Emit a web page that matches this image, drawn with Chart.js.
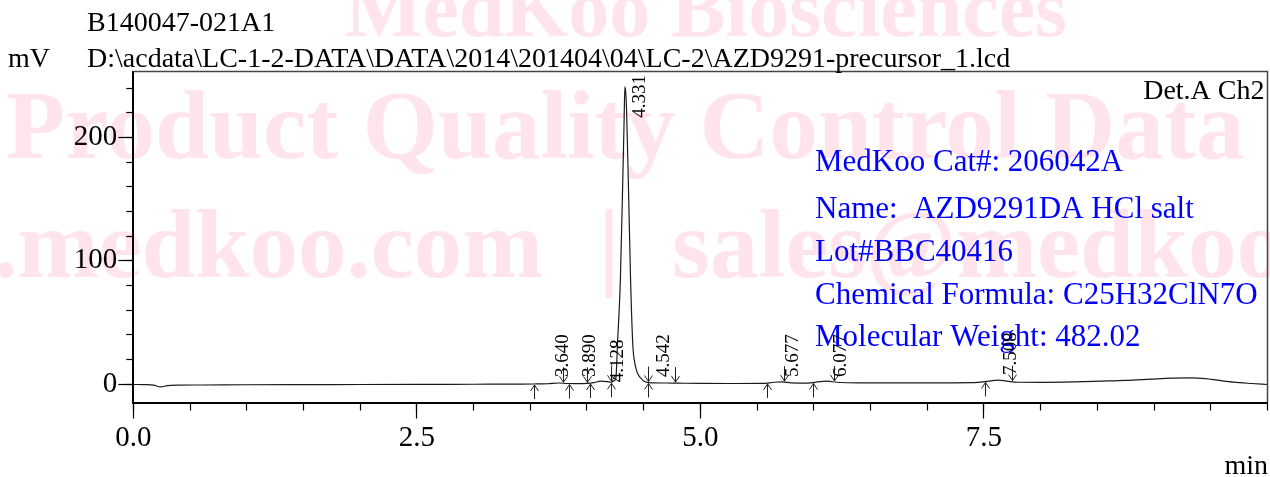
<!DOCTYPE html>
<html lang="en">
<head>
    <meta charset="UTF-8">
    <title>AZD9291DA HCl salt - HPLC</title>
    <script src="https://cdn.jsdelivr.net/npm/chart.js"></script>
    <style>
        * { margin: 0; padding: 0; box-sizing: border-box; }
        body { background: #fff; width: 1270px; height: 477px; overflow: hidden; }
        canvas { display: block; }
    </style>
</head>
<body>
    <canvas id="chromatogram" width="1270" height="477"></canvas>

    <script>
        // retention time (min) and detector signal (mV)
        const times = [0.00, 0.10, 0.18, 0.24, 0.30, 0.40, 0.60, 1.00, 1.50, 2.00, 2.50, 3.00, 3.40, 3.53,
            3.65, 3.75, 3.82, 3.90, 4.00, 4.06, 4.12, 4.18, 4.21, 4.24, 4.255, 4.27, 4.285, 4.295, 4.316,
            4.327, 4.334, 4.342, 4.349, 4.364, 4.384, 4.404, 4.42, 4.434, 4.45, 4.472, 4.50, 4.53, 4.58,
            4.70, 4.80, 5.00, 5.30, 5.55, 5.65, 5.72, 5.80, 5.95, 6.05, 6.12, 6.20, 6.40, 7.00, 7.40,
            7.55, 7.62, 7.70, 7.80, 8.00, 8.30, 8.53, 8.75, 8.97, 9.15, 9.33, 9.45, 9.56, 9.70, 9.86, 10.00];
        const signal = [-0.3, -0.4, -0.8, -2.3, -1.2, -0.8, -0.7, -0.5, -0.4, -0.3, -0.2, -0.1, 0.0, 0.1,
            0.3, 0.9, 0.5, 0.4, 0.6, 1.2, 2.4, 2.0, 1.5, 2.8, 5.0, 35, 62, 86, 167,
            212, 241, 236, 222, 167, 86, 32, 18, 12, 8, 5, 2.5, 1.4, 1.0,
            0.9, 0.8, 0.6, 0.5, 0.6, 1.5, 1.8, 1.0, 0.8, 2.0, 2.4, 1.5, 1.0, 1.0, 1.2,
            2.5, 3.2, 2.5, 1.5, 1.4, 1.8, 2.4, 3.0, 4.0, 4.8, 5.1, 4.5, 3.2, 1.6, 0.5, -0.3];

        // integration marks (min)
        const startMarks = [3.53, 3.84, 4.03, 4.21, 4.54, 5.59, 5.99, 7.51];
        const endMarks = [3.79, 4.00, 4.21, 4.54, 4.78, 5.74, 6.18, 7.745];

        // retention time labels, where they sit (min, mV)
        const peakLabels = ['3.640', '3.890', '4.128', '4.331', '4.542', '5.677', '6.077', '7.508'];
        const labelTimes = [3.79, 4.03, 4.27, 4.47, 4.68, 5.82, 6.24, 7.74];
        const labelLevels = [5.7, 5.7, 1.6, 216, 5.7, 5.7, 5.7, 7.3];

        const xTickLabels = { 0: '0.0', 2.5: '2.5', 5: '5.0', 7.5: '7.5' };
        const yTickLabels = { 0: '0', 100: '100', 200: '200' };

        const sampleName = 'B140047-021A1';
        const filePath = 'D:\\acdata\\LC-1-2-DATA\\DATA\\2014\\201404\\04\\LC-2\\AZD9291-precursor_1.lcd';
        const infoLines = [
            'MedKoo Cat#: 206042A',
            'Name:  AZD9291DA HCl salt',
            'Lot#BBC40416',
            'Chemical Formula: C25H32ClN7O',
            'Molecular Weight: 482.02'
        ];

        const serif = '"Liberation Serif", "Times New Roman", serif';

        function signalAt(t) {
            for (let i = 1; i < times.length; i++) {
                if (times[i] >= t) {
                    const f = (t - times[i - 1]) / (times[i] - times[i - 1]);
                    return signal[i - 1] + f * (signal[i] - signal[i - 1]);
                }
            }
            return signal[signal.length - 1];
        }

        const decorations = {
            id: 'decorations',
            beforeDraw(chart) {
                const ctx = chart.ctx;
                ctx.save();
                ctx.fillStyle = '#fff';
                ctx.fillRect(0, 0, chart.width, chart.height);
                // watermark
                ctx.fillStyle = 'rgb(255, 228, 235)';
                ctx.textBaseline = 'alphabetic';
                ctx.font = 'bold 82px ' + serif;
                ctx.textAlign = 'left';
                ctx.fillText('MedKoo Biosciences', 345, 36);
                ctx.font = 'bold 97px ' + serif;
                ctx.fillText('Product Quality Control Data', 6, 158);
                ctx.textAlign = 'right';
                ctx.fillText('www.medkoo.com', 543, 277);
                ctx.textAlign = 'center';
                ctx.fillText('|', 609, 277);
                ctx.textAlign = 'left';
                ctx.fillText('sales@medkoo.com', 672, 277);
                ctx.restore();
            },
            afterDraw(chart) {
                const { ctx, chartArea: a } = chart;
                const x = chart.scales.x, y = chart.scales.y;
                ctx.save();

                // frame top / right
                ctx.strokeStyle = '#444';
                ctx.lineWidth = 1.5;
                ctx.beginPath();
                ctx.moveTo(a.left, a.top);
                ctx.lineTo(a.right, a.top);
                ctx.lineTo(a.right, a.bottom);
                ctx.stroke();

                // header texts
                ctx.fillStyle = '#000';
                ctx.font = '28px ' + serif;
                ctx.textBaseline = 'alphabetic';
                ctx.textAlign = 'left';
                ctx.fillText(sampleName, 87, 31);
                ctx.fillText('mV', 8, 67);
                ctx.fillText(filePath, 87, 67);
                ctx.textAlign = 'right';
                ctx.fillText('Det.A Ch2', a.right - 3, 99);
                ctx.fillText('min', 1268, 474);

                // product info
                ctx.fillStyle = '#0000ff';
                ctx.font = '31px ' + serif;
                ctx.textAlign = 'left';
                const baselines = [171, 218, 261, 304, 346];
                infoLines.forEach((line, i) => ctx.fillText(line, 815, baselines[i]));

                // integration arrows
                ctx.strokeStyle = '#222';
                ctx.lineWidth = 1;
                const arrow = (px, tip, tail) => {
                    const dir = tail > tip ? 1 : -1;
                    ctx.beginPath();
                    ctx.moveTo(px, tip);
                    ctx.lineTo(px, tail);
                    ctx.moveTo(px - 4, tip + dir * 6);
                    ctx.lineTo(px, tip);
                    ctx.lineTo(px + 4, tip + dir * 6);
                    ctx.stroke();
                };
                startMarks.forEach(t => {
                    const px = Math.round(x.getPixelForValue(t)) + 0.5;
                    const py = y.getPixelForValue(signalAt(t)) + 1;
                    arrow(px, py, py + 14);
                });
                endMarks.forEach(t => {
                    const px = Math.round(x.getPixelForValue(t)) + 0.5;
                    const py = y.getPixelForValue(signalAt(t)) - 1;
                    arrow(px, py, py - 15);
                });

                // retention time labels
                ctx.fillStyle = '#000';
                ctx.font = '19px ' + serif;
                ctx.textAlign = 'left';
                ctx.textBaseline = 'middle';
                peakLabels.forEach((label, i) => {
                    ctx.save();
                    ctx.translate(x.getPixelForValue(labelTimes[i]), y.getPixelForValue(labelLevels[i]));
                    ctx.rotate(-Math.PI / 2);
                    ctx.fillText(label, 0, 0);
                    ctx.restore();
                });
                ctx.restore();
            }
        };

        const tickFont = { family: serif, size: 29 };

        new Chart(document.getElementById('chromatogram'), {
            type: 'line',
            data: {
                datasets: [{
                    data: times.map((t, i) => ({ x: t, y: signal[i] })),
                    borderColor: '#1a1a1a',
                    borderWidth: 1.2,
                    pointRadius: 0,
                    cubicInterpolationMode: 'monotone',
                    fill: false
                }]
            },
            options: {
                responsive: false,
                animation: false,
                layout: { padding: { top: 71.5, right: 2.5, left: 0, bottom: 0 } },
                plugins: { legend: { display: false }, tooltip: { enabled: false } },
                scales: {
                    x: {
                        type: 'linear', position: 'bottom', weight: 1,
                        min: 0, max: 10,
                        afterFit(s) { s.height = 74.5; },
                        border: { display: true, color: '#000', width: 2 },
                        grid: {
                            drawOnChartArea: false, tickLength: 16, tickWidth: 1.2,
                            tickColor: c => (c.tick && c.tick.value === 10) ? 'rgba(0,0,0,0)' : '#000'
                        },
                        ticks: {
                            stepSize: 2.5, padding: 2, color: '#000', font: tickFont,
                            maxRotation: 0, autoSkip: false,
                            callback: v => xTickLabels[v] || ''
                        }
                    },
                    xMinor: {
                        type: 'linear', position: 'bottom', weight: 0,
                        min: 0, max: 10,
                        afterFit(s) { s.height = 0; },
                        border: { display: false },
                        grid: { drawOnChartArea: false, tickLength: 8, tickWidth: 1.2, tickColor: '#000' },
                        ticks: { stepSize: 0.5, display: false, includeBounds: false }
                    },
                    y: {
                        type: 'linear', position: 'left', weight: 1,
                        min: -14.9, max: 253.5,
                        afterFit(s) { s.width = 133.3; },
                        border: { display: true, color: '#000', width: 2 },
                        grid: { drawOnChartArea: false, tickLength: 15, tickWidth: 1.2, tickColor: '#000' },
                        ticks: {
                            stepSize: 100, padding: 1, color: '#000', font: tickFont,
                            includeBounds: false,
                            callback: v => yTickLabels[v] || ''
                        }
                    },
                    yMinor: {
                        type: 'linear', position: 'left', weight: 0,
                        min: -14.9, max: 253.5,
                        afterFit(s) { s.width = 0; },
                        border: { display: false },
                        grid: { drawOnChartArea: false, tickLength: 7, tickWidth: 1.2, tickColor: '#000' },
                        ticks: { stepSize: 20, display: false, includeBounds: false }
                    }
                }
            },
            plugins: [decorations]
        });
    </script>
</body>
</html>
